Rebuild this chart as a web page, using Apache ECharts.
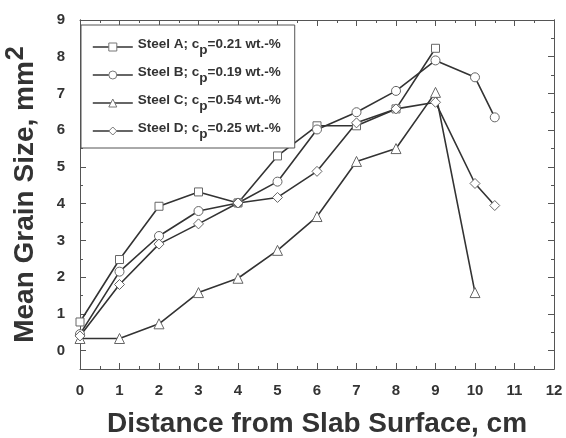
<!DOCTYPE html>
<html>
<head>
<meta charset="utf-8">
<script src="https://cdn.jsdelivr.net/npm/echarts@6/dist/echarts.min.js"></script>
<style>
  html, body { margin: 0; padding: 0; background: #fff; }
  #chart { width: 566px; height: 438px; }
</style>
</head>
<body>
<div id="chart"></div>
<script>
// data
var distance = [0, 1, 2, 3, 4, 5, 6, 7, 8, 9, 10, 10.5]
var steelA = [0.78, 2.48, 3.93, 4.32, 4.02, 5.3, 6.12, 6.12, 6.58, 8.23]
var steelB = [0.45, 2.15, 3.12, 3.8, 4.02, 4.6, 6.02, 6.49, 7.07, 7.9, 7.44, 6.35]
var steelC = [0.33, 0.33, 0.73, 1.58, 1.97, 2.73, 3.65, 5.15, 5.5, 7.03, 1.58]
var steelD = [0.4, 1.8, 2.9, 3.45, 4.02, 4.17, 4.88, 6.2, 6.58, 6.76, 4.55, 3.95]
var steelNames = ['Steel A', 'Steel B', 'Steel C', 'Steel D']
var cpValues = ['0.21', '0.19', '0.54', '0.25']
var symbols = ['rect', 'circle', 'triangle', 'diamond']
var yTicks = [0, 1, 2, 3, 4, 5, 6, 7, 8, 9]
var yMinorTicks = [0.5, 1.5, 2.5, 3.5, 4.5, 5.5, 6.5, 7.5, 8.5]

var textColor = '#333'
var frameColor = '#555'

function pairs(ys) {
  return ys.map(function(y, i) { return [distance[i], y] })
}

var allSteel = [steelA, steelB, steelC, steelD]
var symbolSizes = [8, 9, 10, 10]

var series = allSteel.map(function(ys, i) {
  return {
    name: steelNames[i],
    type: 'line',
    data: pairs(ys),
    symbol: symbols[i],
    symbolSize: symbolSizes[i],
    showAllSymbol: true,
    lineStyle: { color: '#333', width: 1.6 },
    itemStyle: { color: '#fff', borderColor: '#666', borderWidth: 1 },
    emphasis: { disabled: true },
    z: 3
  }
})

var labelFont = { color: textColor, fontFamily: 'Liberation Sans', fontWeight: 'bold', fontSize: 15 }

function yAxisPart(pos, ticks, len, withLabels) {
  return {
    type: 'value',
    position: pos,
    min: -0.5,
    max: 9,
    gridIndex: 0,
    axisLine: { show: true, onZero: false, lineStyle: { color: frameColor, width: 1 } },
    axisTick: { show: true, inside: true, length: len, customValues: ticks, lineStyle: { color: frameColor } },
    axisLabel: withLabels
      ? Object.assign({ show: true, customValues: ticks, margin: 15 }, labelFont)
      : { show: false },
    splitLine: { show: false }
  }
}

function xAxisPart(pos, withLabels) {
  return {
    type: 'value',
    position: pos,
    min: 0,
    max: 12,
    interval: 1,
    axisLine: { show: true, onZero: false, lineStyle: { color: frameColor, width: 1 } },
    axisTick: { show: true, inside: true, length: 6, lineStyle: { color: frameColor } },
    minorTick: { show: true, splitNumber: 2, length: 3, lineStyle: { color: frameColor } },
    axisLabel: withLabels ? Object.assign({ show: true, margin: 14 }, labelFont) : { show: false },
    splitLine: { show: false },
    minorSplitLine: { show: false }
  }
}

var xBottom = xAxisPart('bottom', true)
xBottom.name = 'Distance from Slab Surface, cm'
xBottom.nameLocation = 'middle'
xBottom.nameGap = 41
xBottom.nameTextStyle = { color: textColor, fontFamily: 'Liberation Sans', fontWeight: 'bold', fontSize: 28 }

var yLeft = yAxisPart('left', yTicks, 6, true)
yLeft.name = '{n|Mean Grain Size, mm}{s|2}'
yLeft.nameLocation = 'middle'
yLeft.nameGap = 41
yLeft.nameTextStyle = {
  color: textColor,
  rich: {
    n: { color: textColor, fontFamily: 'Liberation Sans', fontWeight: 'bold', fontSize: 28, verticalAlign: 'bottom' },
    s: { color: textColor, fontFamily: 'Liberation Sans', fontWeight: 'bold', fontSize: 25, verticalAlign: 'bottom', padding: [0, 0, 10, 1] }
  }
}

var chart = echarts.init(document.getElementById('chart'), null, { renderer: 'canvas' })
chart.setOption({
  animation: false,
  backgroundColor: '#fff',
  grid: { left: 80, right: 12, top: 20, bottom: 69, containLabel: false, outerBoundsMode: 'none' },
  xAxis: [xBottom, xAxisPart('top', false)],
  yAxis: [
    yLeft,
    yAxisPart('left', yMinorTicks, 3, false),
    yAxisPart('right', yTicks, 6, false),
    yAxisPart('right', yMinorTicks, 3, false)
  ],
  legend: {
    orient: 'vertical',
    left: 81,
    top: 25,
    padding: [12, 14, 7, 11],
    itemGap: 8,
    itemWidth: 40,
    itemHeight: 10,
    borderColor: '#555',
    borderWidth: 1,
    borderRadius: 0,
    backgroundColor: '#fff',
    data: steelNames,
    itemStyle: { color: '#fff', borderColor: '#777', borderWidth: 1 },
    lineStyle: { color: '#333', width: 1.6 },
    formatter: function(name) {
      var i = steelNames.indexOf(name)
      return '{t|' + name + '; c}{p|p}{t|=' + cpValues[i] + ' wt.-%}'
    },
    textStyle: {
      rich: {
        t: { color: textColor, fontFamily: 'Liberation Sans', fontWeight: 'bold', fontSize: 13.5, verticalAlign: 'top' },
        p: { color: textColor, fontFamily: 'Liberation Sans', fontWeight: 'bold', fontSize: 13.5, verticalAlign: 'top', padding: [6, 0, 0, 0] }
      }
    }
  },
  series: series
})
</script>
</body>
</html>
